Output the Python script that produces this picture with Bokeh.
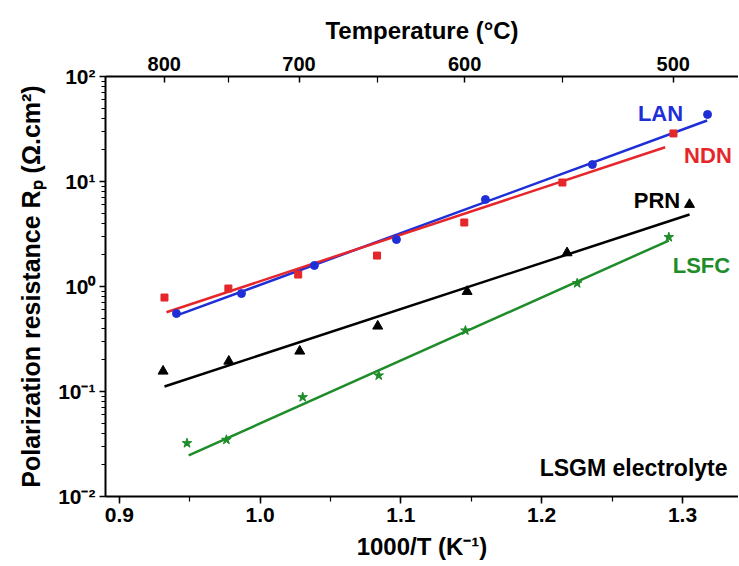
from bokeh.plotting import figure
from bokeh.models import (Range1d, LinearAxis, FixedTicker, CustomJSTickFormatter,
                          SingleIntervalTicker, NumeralTickFormatter)
from bokeh.core.properties import value
from bokeh.embed import file_html
from bokeh.resources import INLINE

# ---- data (1000/T in K^-1, Rp in ohm.cm2) ----
lan_x = [0.9405, 0.9867, 1.0385, 1.0968, 1.160, 1.236, 1.3178]
lan_y = [0.553, 0.857, 1.585, 2.80, 6.74, 14.5, 43.5]
ndn_x = [0.932, 0.9774, 1.027, 1.083, 1.145, 1.2147, 1.2936]
ndn_y = [0.785, 0.957, 1.30, 1.97, 4.07, 9.78, 28.7]
prn_x = [0.931, 0.9777, 1.0281, 1.0835, 1.147, 1.218, 1.305]
prn_y = [0.156, 0.194, 0.242, 0.419, 0.896, 2.09, 6.04]
lsfc_x = [0.948, 0.976, 1.0302, 1.0842, 1.1458, 1.2252, 1.2903]
lsfc_y = [0.0322, 0.0347, 0.0883, 0.142, 0.381, 1.074, 2.95]

# fitted lines (end points)
lan_fit_x = [0.9408, 1.3175]
lan_fit_y = [0.53, 38.1]
ndn_fit_x = [0.9334, 1.2877]
ndn_fit_y = [0.569, 21.2]
prn_fit_x = [0.932, 1.305]
prn_fit_y = [0.1116, 4.85]
lsfc_fit_x = [0.9492, 1.2903]
lsfc_fit_y = [0.0246, 2.74]

# top axis temperatures (deg C)
temp_major = [800, 700, 600, 500]
temp_minor = [750, 650, 550]

series_names = ["LAN", "NDN", "PRN", "LSFC"]
label_x = [1.2844, 1.3181, 1.2819, 1.3135]
label_y = [44.9, 17.7, 6.59, 1.585]

BLUE = "#1f2fd8"
RED = "#e5262b"
BLACK = "#000000"
GREEN = "#1f8c2a"
FONT = "Liberation Sans"

p = figure(frame_width=633, frame_height=420,
           x_range=Range1d(0.8901, 1.3398), y_range=Range1d(0.01, 100),
           y_axis_type="log", output_backend="svg", toolbar_location=None,
           min_border_left=105, min_border_top=76, min_border_right=0,
           min_border_bottom=68)
p.outline_line_color = None
p.xgrid.visible = False
p.ygrid.visible = False

# bottom axis
xa = p.xaxis[0]
xa.ticker = SingleIntervalTicker(interval=0.1, num_minor_ticks=2)
xa.formatter = NumeralTickFormatter(format="0.0")
xa.axis_label = "1000/T (K⁻¹)"

# left axis
ya = p.yaxis[0]
ya.formatter = CustomJSTickFormatter(code="""
const sup = {'-':'\u207b','0':'\u2070','1':'\u00b9','2':'\u00b2','3':'\u00b3','4':'\u2074','5':'\u2075','6':'\u2076','7':'\u2077','8':'\u2078','9':'\u2079'};
const e = Math.round(Math.log10(tick));
return '10' + String(e).split('').map(c => sup[c]).join('');
""")
ya.axis_label = "Polarization resistance Rₚ (Ω.cm²)"

# top axis (temperature)
top = LinearAxis(
    ticker=FixedTicker(ticks=[1000.0 / (t + 273.15) for t in temp_major],
                       minor_ticks=[1000.0 / (t + 273.15) for t in temp_minor]),
    formatter=CustomJSTickFormatter(code="return Math.round(1000/tick - 273.15).toString();"),
    axis_label="Temperature (°C)")
p.add_layout(top, "above")

for ax in [xa, ya, top]:
    ax.axis_line_width = 2
    ax.axis_line_color = "black"
    ax.major_tick_line_width = 1.5
    ax.minor_tick_line_width = 1.2
    ax.major_label_text_font = FONT
    ax.major_label_text_font_style = "bold"
    ax.major_label_text_color = "black"
    ax.axis_label_text_font = FONT
    ax.axis_label_text_font_style = "bold"
    ax.axis_label_text_color = "black"

xa.major_label_text_font_size = "21px"
ya.major_label_text_font_size = "21px"
top.major_label_text_font_size = "20px"
xa.axis_label_text_font_size = "24px"
top.axis_label_text_font_size = "24px"
ya.axis_label_text_font_size = "25px"

xa.major_tick_out = 7
xa.major_tick_in = 0
xa.minor_tick_out = 5
xa.minor_tick_in = 0
xa.major_label_standoff = 4
xa.axis_label_standoff = 8

ya.major_tick_out = 6
ya.major_tick_in = 0
ya.minor_tick_out = 4
ya.minor_tick_in = 0
ya.major_label_standoff = 4
ya.axis_label_standoff = 10

top.major_tick_in = 6
top.major_tick_out = 0
top.minor_tick_in = 6
top.minor_tick_out = 0
top.major_label_standoff = 6
top.axis_label_standoff = 10

# fitted lines
p.line(lan_fit_x, lan_fit_y, line_color=BLUE, line_width=2.5)
p.line(ndn_fit_x, ndn_fit_y, line_color=RED, line_width=2.5)
p.line(prn_fit_x, prn_fit_y, line_color=BLACK, line_width=2.5)
p.line(lsfc_fit_x, lsfc_fit_y, line_color=GREEN, line_width=2.5)

# data points
p.scatter(lan_x, lan_y, marker="circle", size=8, color=BLUE)
p.scatter(ndn_x, ndn_y, marker="square", size=7, color=RED)
p.scatter(prn_x, prn_y, marker="triangle", size=10, color=BLACK)
p.scatter(lsfc_x, lsfc_y, marker="star", size=10, color=GREEN)

# series labels
p.text(x=label_x, y=label_y, text=series_names,
       text_color=[BLUE, RED, BLACK, GREEN],
       text_font=value(FONT), text_font_style="bold", text_font_size="22px",
       text_align="center", text_baseline="middle")

p.text(x=[1.332], y=[0.0185], text=["LSGM electrolyte"], text_color="black",
       text_font=value(FONT), text_font_style="bold", text_font_size="23px",
       text_align="right", text_baseline="middle")

with open("out.html", "w", encoding="utf-8") as f:
    f.write(file_html(p, INLINE))
